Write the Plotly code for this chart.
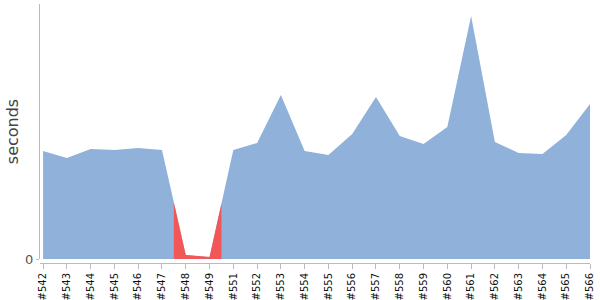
import plotly.graph_objects as go

builds = ["#542", "#543", "#544", "#545", "#546", "#547", "#548", "#549", "#551", "#552",
          "#553", "#554", "#555", "#556", "#557", "#558", "#559", "#560", "#561", "#562",
          "#563", "#564", "#565", "#566"]
durations = [108, 101, 110, 109, 111, 109, 4, 2, 109, 116,
             164, 108, 104, 125, 162, 123, 115, 132, 243, 117,
             106, 105, 124, 155]
failed = ["#548", "#549"]

BLUE = "#8fb1da"
RED = "#f25757"

idx = list(range(len(builds)))
fig = go.Figure()
fig.add_trace(go.Scatter(x=idx, y=durations, mode="lines", line=dict(width=0, color=BLUE),
                         fill="tozeroy", fillcolor=BLUE, hoverinfo="skip", showlegend=False))

# red segments spanning half an interval around failed builds
fi = [builds.index(b) for b in failed]
start, end = min(fi), max(fi)
rx = [start - 0.5] + list(range(start, end + 1)) + [end + 0.5]
ry = [(durations[start - 1] + durations[start]) / 2] + durations[start:end + 1] + \
     [(durations[end] + durations[end + 1]) / 2]
fig.add_trace(go.Scatter(x=rx, y=ry, mode="lines", line=dict(width=0, color=RED),
                         fill="tozeroy", fillcolor=RED, hoverinfo="skip", showlegend=False))

fig.update_layout(
    width=600, height=300,
    margin=dict(l=40, r=10, t=4, b=37),
    plot_bgcolor="white", paper_bgcolor="white",
    font=dict(family="DejaVu Sans"),
    xaxis=dict(range=[-0.13, len(builds) - 1], tickmode="array", tickvals=idx, ticktext=builds,
               tickangle=-90, ticks="outside", ticklen=5, tickcolor="#bbbbbb",
               showline=True, linecolor="#bbbbbb", linewidth=1, automargin=False,
               showgrid=False, zeroline=False, anchor="free", position=0,
               tickfont=dict(size=10, color="#111111", family="DejaVu Sans")),
    yaxis=dict(range=[0, 255], domain=[4 / 259, 1], tickvals=[0], ticktext=["0"],
               ticks="outside", ticklen=3, tickcolor="#bbbbbb",
               showline=True, linecolor="#bbbbbb", linewidth=1, automargin=False,
               showgrid=False, zeroline=False,
               tickfont=dict(size=13, color="#555555", family="DejaVu Sans"),
               title=dict(text="seconds", font=dict(size=16, color="#444444", family="DejaVu Sans"),
                          standoff=2)),
)
fig.write_html("out.html")
